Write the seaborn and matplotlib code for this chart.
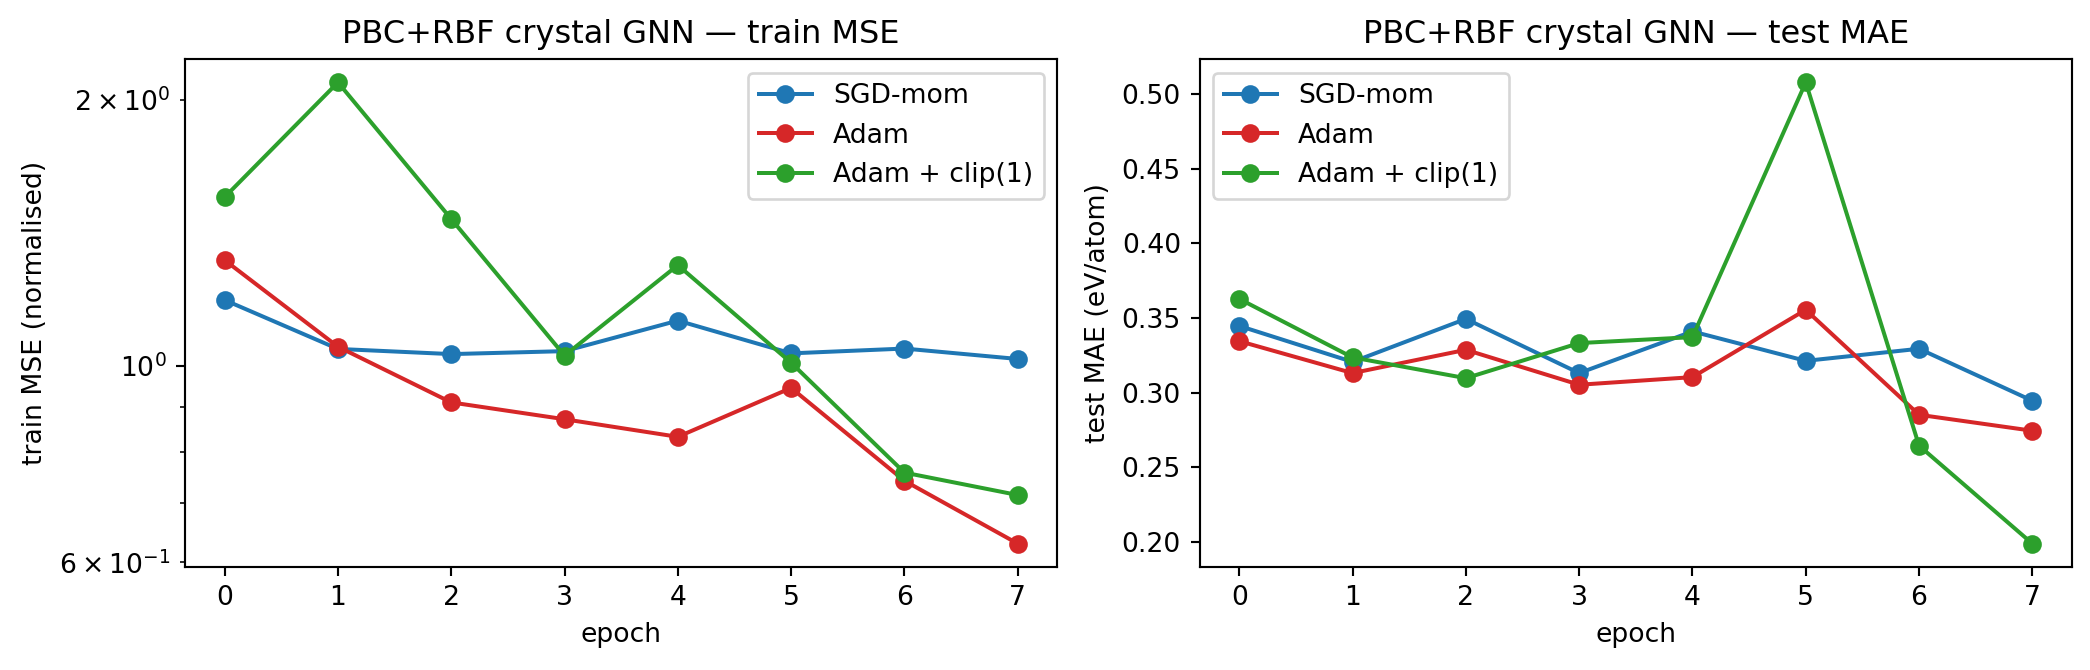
import numpy as np
import pandas as pd
import matplotlib
matplotlib.use("Agg")
import matplotlib.pyplot as plt
import seaborn as sns

epochs = [0, 1, 2, 3, 4, 5, 6, 7]
optimizers = ["SGD-mom", "Adam", "Adam + clip(1)"]
colors = ["#1f77b4", "#d62728", "#2ca02c"]

train_sgd = [1.188, 1.046, 1.032, 1.040, 1.126, 1.034, 1.047, 1.019]
train_adam = [1.318, 1.052, 0.910, 0.871, 0.832, 0.945, 0.742, 0.630]
train_clip = [1.553, 2.094, 1.467, 1.028, 1.301, 1.009, 0.758, 0.715]

test_sgd = [0.3446, 0.3205, 0.3493, 0.3130, 0.3409, 0.3212, 0.3293, 0.2945]
test_adam = [0.3344, 0.3130, 0.3286, 0.3052, 0.3103, 0.3554, 0.2851, 0.2744]
test_clip = [0.3627, 0.3235, 0.3096, 0.3331, 0.3371, 0.5077, 0.2644, 0.1988]

train_title = "PBC+RBF crystal GNN \u2014 train MSE"
test_title = "PBC+RBF crystal GNN \u2014 test MAE"

W, H, DPI = 2090, 670, 192
fig, axes = plt.subplots(1, 2, figsize=(W / DPI, H / DPI), dpi=DPI)
fig.subplots_adjust(left=185 / W, right=2072 / W, bottom=1 - 566.7 / H,
                    top=1 - 59.3 / H, wspace=0.163)

for ax, series, ylabel, title in [
    (axes[0], [train_sgd, train_adam, train_clip], "train MSE (normalised)", train_title),
    (axes[1], [test_sgd, test_adam, test_clip], "test MAE (eV/atom)", test_title),
]:
    for name, vals, c in zip(optimizers, series, colors):
        df = pd.DataFrame({"epoch": epochs, "value": vals})
        sns.lineplot(data=df, x="epoch", y="value", ax=ax, color=c, marker="o",
                     markersize=6, markeredgecolor=c, markeredgewidth=1,
                     linewidth=1.5, label=name)
    ax.set_title(title, fontsize=12)
    ax.set_xlabel("epoch")
    ax.set_ylabel(ylabel)
    ax.set_xticks(epochs)

axes[0].set_yscale("log")
axes[0].legend(loc="upper right")
axes[1].legend(loc="upper left")

fig.savefig("out.png", dpi=DPI)
